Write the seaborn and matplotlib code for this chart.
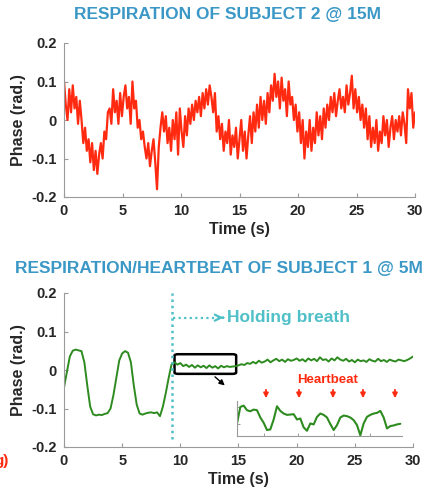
import numpy as np
import pandas as pd
import matplotlib
matplotlib.use("Agg")
import matplotlib.pyplot as plt
import seaborn as sns
from matplotlib.patches import FancyBboxPatch

# subject 2 @ 15 m, phase (rad.) sampled every 0.15 s
resp_s2 = [
    0.10, 0.04, 0.00, 0.08, 0.02, 0.09, 0.03, 0.06, -0.01, 0.05,
    0.00, -0.06, -0.02, -0.08, -0.05, -0.11, -0.06, -0.13, -0.08, -0.14,
    -0.09, -0.06, -0.10, -0.03, -0.05, 0.02, 0.03, -0.01, 0.08, 0.02,
    0.05, -0.01, 0.07, 0.01, 0.06, 0.09, 0.03, 0.06, -0.01, 0.10,
    0.03, 0.05, -0.02, 0.00, -0.05, -0.03, -0.07, -0.10, -0.06, -0.12,
    -0.08, -0.05, -0.11, -0.18, -0.07, -0.02, 0.02, -0.03, 0.01, -0.06,
    -0.02, -0.08, 0.00, -0.05, 0.02, -0.09, 0.03, -0.03, -0.07, 0.01,
    -0.04, 0.03, -0.01, 0.04, 0.00, 0.05, 0.02, 0.06, 0.01, 0.07,
    0.03, 0.08, 0.04, 0.09, 0.06, 0.02, 0.07, -0.03, 0.01, -0.05,
    -0.01, -0.08, -0.03, -0.06, 0.00, -0.09, -0.04, -0.07, -0.02, -0.10,
    -0.05, 0.00, -0.08, -0.03, -0.10, -0.04, 0.01, -0.06, 0.02, -0.03,
    0.04, -0.02, 0.06, 0.00, 0.05, -0.01, 0.07, 0.02, 0.09, 0.05,
    0.12, 0.06, 0.10, 0.03, 0.11, 0.05, 0.08, 0.01, 0.10, 0.04,
    0.06, 0.00, 0.04, -0.03, 0.02, -0.06, 0.00, -0.10, -0.03, -0.07,
    0.00, -0.08, -0.02, -0.06, 0.02, -0.04, 0.01, -0.05, 0.03, -0.02,
    0.04, 0.00, 0.06, 0.02, 0.07, 0.01, 0.05, 0.08, 0.03, 0.06,
    0.02, 0.09, 0.04, 0.07, 0.115, 0.03, 0.08, 0.02, 0.06, 0.00,
    0.04, -0.02, 0.03, -0.05, 0.01, -0.07, -0.02, -0.06, 0.00, -0.08,
    -0.03, -0.06, 0.01, -0.04, 0.00, -0.07, -0.02, 0.01, -0.05, 0.00,
    -0.03, 0.01, -0.04, 0.02, -0.01, -0.06, 0.08, 0.03, 0.07, -0.02,
    0.02,
]
t_s2 = np.arange(len(resp_s2)) * 0.15

# subject 1 @ 5 m, phase (rad.) sampled every 0.25 s
resp_s1 = [
    -0.045, -0.005, 0.035, 0.05, 0.053, 0.051, 0.049, 0.02, -0.04, -0.095,
    -0.115, -0.118, -0.116, -0.117, -0.114, -0.112, -0.10, -0.065, -0.02, 0.025,
    0.043, 0.049, 0.045, 0.02, -0.04, -0.09, -0.113, -0.116, -0.113, -0.111,
    -0.11, -0.112, -0.11, -0.12, -0.095, -0.06, -0.02, 0.015, 0.02, 0.014,
    0.018, 0.01, 0.014, 0.008, 0.013, 0.006, 0.012, 0.007, 0.011, 0.005,
    0.012, 0.006, 0.01, 0.004, 0.011, 0.007, 0.01, 0.008, 0.009, 0.01,
    0.012, 0.015, 0.013, 0.018, 0.016, 0.021, 0.017, 0.024, 0.019, 0.022,
    0.027, 0.02, 0.025, 0.029, 0.023, 0.027, 0.021, 0.028, 0.024, 0.026,
    0.03, 0.024, 0.028, 0.022, 0.03, 0.025, 0.029, 0.023, 0.033, 0.026,
    0.028, 0.022, 0.03, 0.025, 0.033, 0.027, 0.024, 0.029, 0.022, 0.026,
    0.02, 0.027, 0.023, 0.025, 0.021, 0.028, 0.024, 0.022, 0.029, 0.023,
    0.026, 0.021, 0.027, 0.024, 0.022, 0.027, 0.025, 0.023, 0.026, 0.03,
    0.035,
]
t_s1 = np.arange(len(resp_s1)) * 0.25

# zoomed heartbeat segment (holding breath)
heart = [
    0.0076, 0.0176, 0.0184, 0.0156, 0.0150, 0.0160, 0.0156, 0.0112, 0.0080, 0.0036,
    0.0040, 0.0100, 0.0180, 0.0152, 0.0136, 0.0128, 0.0130, 0.0132, 0.0100, 0.0106,
    0.0052, 0.0032, 0.0076, 0.0070, 0.0116, 0.0136, 0.0128, 0.0112, 0.0072, 0.0036,
    0.0066, 0.0112, 0.0124, 0.0120, 0.0112, 0.0096, 0.0066, 0.0004, 0.0076, 0.0116,
    0.0128, 0.0136, 0.0140, 0.0152, 0.0112, 0.0046, 0.0060, 0.0064, 0.0070, 0.0074,
]
heart_idx = np.arange(len(heart))
beat_idx = [8.7, 18.6, 28.8, 37.8, 47.4]

hold_start = 9.25
zoom_box = (9.5, 14.8, -0.010, 0.041)  # t0, t1, y0, y1

x_ticks = [0, 5, 10, 15, 20, 25, 30]
y_ticks = [-0.2, -0.1, 0, 0.1, 0.2]
y_tick_labels = ["-0.2", "-0.1", "0", "0.1", "0.2"]

title_top = "RESPIRATION OF SUBJECT 2 @ 15M"
title_bottom = "RESPIRATION/HEARTBEAT OF SUBJECT 1 @ 5M"

BLUE = "#3b98c6"
TEAL = "#4fc0c8"
RED = "#ff2a10"
GREEN = "#2e8b20"
SPINE = "#9a9a9a"

sns.set_style("ticks")
plt.rcParams["font.family"] = ["Liberation Sans", "DejaVu Sans"]

W, H = 426, 496
fig = plt.figure(figsize=(W / 100, H / 100), dpi=100)


def px_axes(left, top, right, bottom):
    return fig.add_axes([left / W, 1 - bottom / H, (right - left) / W, (bottom - top) / H])


def style_axes(ax):
    sns.despine(ax=ax)
    for s in ("left", "bottom"):
        ax.spines[s].set_color(SPINE)
        ax.spines[s].set_linewidth(0.8)
    ax.tick_params(direction="in", length=3, width=0.8, color=SPINE,
                   labelsize=10.5, pad=5)
    ax.set_xlim(0, 30)
    ax.set_ylim(-0.2, 0.2)
    ax.set_xticks(x_ticks)
    ax.set_yticks(y_ticks)
    ax.set_yticklabels(y_tick_labels, fontweight="bold")
    ax.set_xticklabels([str(v) for v in x_ticks], fontweight="bold")
    ax.set_xlabel("Time (s)", fontsize=11.5, fontweight="bold", labelpad=3)
    ax.set_ylabel("Phase (rad.)", fontsize=11.5, fontweight="bold", labelpad=4)


# top panel
ax1 = px_axes(64, 43, 415, 197)
df1 = pd.DataFrame({"t": t_s2, "phase": resp_s2})
sns.lineplot(data=df1, x="t", y="phase", ax=ax1, color=RED, lw=1.6)
style_axes(ax1)
fig.text(227 / W, 1 - 15 / H, title_top, ha="center", va="center",
         fontsize=12.5, fontweight="bold", color=BLUE)

# bottom panel
ax2 = px_axes(64, 293, 413, 447)
df2 = pd.DataFrame({"t": t_s1, "phase": resp_s1})
sns.lineplot(data=df2, x="t", y="phase", ax=ax2, color=GREEN, lw=1.4)
style_axes(ax2)
fig.text(219 / W, 1 - 268 / H, title_bottom, ha="center", va="center",
         fontsize=12.5, fontweight="bold", color=BLUE)

ax2.plot([hold_start, hold_start], [-0.18, 0.2], ls=(0, (1, 1.5)), color=TEAL, lw=1.8)
ax2.plot([hold_start + 0.1, 13.3], [0.136, 0.136], ls=(0, (1, 1.5)), color=TEAL, lw=1.6)
ax2.annotate("", xy=(13.7, 0.136), xytext=(13.45, 0.136),
             arrowprops=dict(arrowstyle="->", color=TEAL, lw=1.6, mutation_scale=11))
ax2.text(14.0, 0.136, "Holding breath", color=TEAL, fontsize=12.5, fontweight="bold",
         va="center", ha="left")

t0, t1, y0, y1 = zoom_box
ax2.add_patch(FancyBboxPatch((t0, y0), t1 - t0, y1 - y0, boxstyle="round,pad=0,rounding_size=0.3",
                             mutation_aspect=0.012, fill=False, ec="black", lw=1.8))
ax2.annotate("", xy=(14.0, -0.045), xytext=(12.8, -0.013),
             arrowprops=dict(arrowstyle="-|>", color="black", lw=1.0, mutation_scale=8))

# inset
ax3 = px_axes(237, 401, 402, 436)
sns.lineplot(x=heart_idx, y=heart, ax=ax3, color=GREEN, lw=1.5)
sns.despine(ax=ax3)
for s in ("left", "bottom"):
    ax3.spines[s].set_color(SPINE)
    ax3.spines[s].set_linewidth(0.8)
ax3.set_xlim(0, 49.5)
ax3.set_ylim(0, 0.0212)
ax3.set_xticks([8.1, 18.3, 29.1, 39.9])
ax3.set_yticks([0.0073, 0.0176])
ax3.tick_params(direction="in", length=2.5, width=0.7, color=SPINE,
                labelbottom=False, labelleft=False)
ax3.set_facecolor("none")
for b in beat_idx:
    ax3.annotate("", xy=(b, 1.0), xycoords=("data", "axes fraction"),
                 xytext=(b, 1.4), textcoords=("data", "axes fraction"),
                 arrowprops=dict(arrowstyle="-|>", color=RED, lw=1.3, mutation_scale=7))
fig.text(328 / W, 1 - 380 / H, "Heartbeat", ha="center", va="center",
         fontsize=9.5, fontweight="bold", color=RED)

# fragment of a neighbouring panel label, clipped at the left edge as in the source
fig.text(9 / W, 1 - 461 / H, "g)", ha="right", va="center",
         fontsize=11, fontweight="bold", color=RED)

fig.savefig("out.png", dpi=100)
